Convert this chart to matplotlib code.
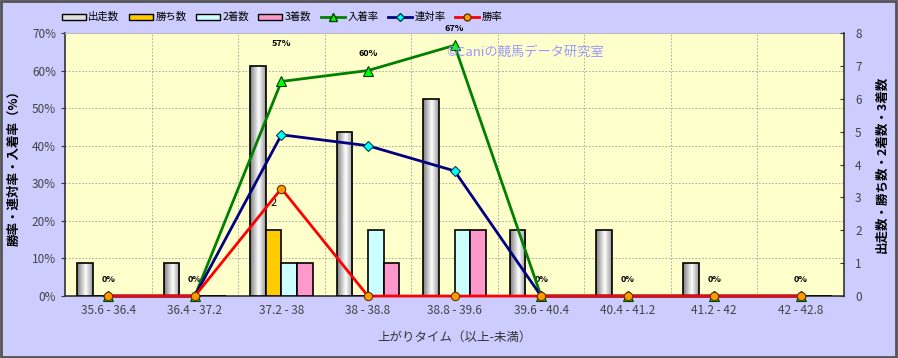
import numpy as np
import matplotlib
matplotlib.use("Agg")
import matplotlib.pyplot as plt
from matplotlib.lines import Line2D
from matplotlib.patches import Patch, Rectangle

plt.rcParams['font.family'] = ['Noto Sans CJK JP', 'DejaVu Sans']

# data
categories = ['35.6 - 36.4', '36.4 - 37.2', '37.2 - 38', '38 - 38.8', '38.8 - 39.6',
              '39.6 - 40.4', '40.4 - 41.2', '41.2 - 42', '42 - 42.8']
starts = [1, 1, 7, 5, 6, 2, 2, 1, 0]
wins = [0, 0, 2, 0, 0, 0, 0, 0, 0]
seconds = [0, 0, 1, 2, 2, 0, 0, 0, 0]
thirds = [0, 0, 1, 1, 2, 0, 0, 0, 0]
win_rate = [0, 0, 28.6, 0, 0, 0, 0, 0, 0]
rentai_rate = [0, 0, 42.9, 40.0, 33.3, 0, 0, 0, 0]
place_rate = [0, 0, 57.1, 60.0, 66.7, 0, 0, 0, 0]

BG = '#CCCCFF'
PLOT_BG = '#FFFFCC'
TICK_COLOR = '#444444'
GRID_KW = dict(color='#A0A0A0', linestyle=(0, (2, 2)), linewidth=0.6)


def shade_bar(ax, patch):
    # cylinder-like grey shading for the white bars
    h = patch.get_height()
    if h <= 0:
        return
    x0 = patch.get_x()
    w = patch.get_width()
    t = np.linspace(0, 1, 40)
    lum = np.interp(t, [0, 0.55, 1], [0.5, 1.0, 0.6])
    grad = np.dstack([lum, lum, lum]).reshape(1, -1, 3)
    im = ax.imshow(grad, extent=(x0, x0 + w, 0, h), aspect='auto',
                   origin='lower', interpolation='bilinear', zorder=2)
    im.set_clip_path(patch)


fig = plt.figure(figsize=(8.98, 3.58), dpi=100, facecolor=BG)
ax = fig.add_axes([0.0724, 0.173, 0.8675, 0.735])
ax.set_facecolor(PLOT_BG)
ax2 = ax.twinx()
ax3 = ax.twinx()

x = np.arange(len(categories))
w = 0.18

# bars on count axis
bar_sets = [
    (starts, 'none', -1.5),
    (wins, '#FFCC00', -0.5),
    (seconds, '#CCFFFF', 0.5),
    (thirds, '#FF99CC', 1.5),
]
for vals, color, off in bar_sets:
    bars = ax2.bar(x + off * w, vals, width=w, facecolor=color,
                   edgecolor='black', linewidth=1.2, zorder=3)
    if color == 'none':
        for b in bars:
            shade_bar(ax2, b)

for i, v in enumerate(wins):
    if v > 0:
        ax2.annotate(str(v), (x[i] - 0.5 * w, v), xytext=(0, 20),
                     textcoords='offset points', ha='center', va='center',
                     fontsize=8, color='black')

# rate lines on percent axis
ax3.plot(x, place_rate, color='#008000', lw=2, marker='^', ms=7,
         mfc='#00FF00', mec='#004000', mew=0.8, clip_on=False, zorder=4)
ax3.plot(x, rentai_rate, color='#000080', lw=2, marker='D', ms=5,
         mfc='#00FFFF', mec='#004040', mew=0.8, clip_on=False, zorder=5)
ax3.plot(x, win_rate, color='#FF0000', lw=2, marker='o', ms=6,
         mfc='#FF9900', mec='#663300', mew=0.8, clip_on=False, zorder=6)

for i, v in enumerate(place_rate):
    dy = 27 if i == 2 else 12
    ax3.annotate(f'{round(v)}%', (x[i], v), xytext=(0, dy),
                 textcoords='offset points', ha='center', va='center',
                 fontsize=6.5, fontweight='bold', color='black')

# axes setup
ax.set_xlim(-0.5, len(categories) - 0.5)
ax.set_ylim(0, 70)
ax2.set_ylim(0, 8)
ax3.set_ylim(0, 70)

ax.set_yticks(np.arange(0, 71, 10))
ax.set_yticklabels([f'{v}%' for v in range(0, 71, 10)])
ax.set_xticks(x)
ax.set_xticklabels(categories)
ax.set_xticks(x[:-1] + 0.5, minor=True)
ax.tick_params(axis='x', which='both', length=0, labelsize=8.5,
               labelcolor=TICK_COLOR, pad=6)
ax.tick_params(axis='y', direction='out', length=3, labelsize=8.5,
               labelcolor=TICK_COLOR, color='#333333')
ax.yaxis.grid(True, **GRID_KW)
ax.xaxis.grid(True, which='minor', **GRID_KW)
ax.set_axisbelow(True)

ax2.set_yticks(range(0, 9))
ax2.tick_params(axis='y', direction='in', length=3, labelsize=8.5,
                labelcolor=TICK_COLOR, color='#333333', pad=8)

ax3.set_yticks([])
for s in ax3.spines.values():
    s.set_visible(False)
for name in ['left', 'top', 'bottom']:
    ax2.spines[name].set_visible(False)
ax.spines['right'].set_visible(False)
ax.spines['top'].set_color('#BBBBBB')
ax.spines['left'].set_color('#333333')
ax.spines['bottom'].set_color('#333333')
ax2.spines['right'].set_color('#333333')
ax.spines['left'].set_linewidth(1.2)
ax.spines['bottom'].set_linewidth(1.2)
ax2.spines['right'].set_linewidth(1.2)

ax.set_ylabel('勝率・連対率・入着率（%）', fontsize=9, fontweight='bold', labelpad=8)
ax2.set_ylabel('出走数・勝ち数・2着数・3着数', fontsize=9, fontweight='bold',
               labelpad=10, rotation=90)
ax.set_xlabel('上がりタイム（以上-未満）', fontsize=9, color='#333333', labelpad=10)

fig.text(0.497, 0.855, '©Caniの競馬データ研究室', fontsize=9.5, color='#9999FF',
         ha='left', va='center')

handles = [
    Patch(facecolor='#E0E0E0', edgecolor='black'),
    Patch(facecolor='#FFCC00', edgecolor='black'),
    Patch(facecolor='#CCFFFF', edgecolor='black'),
    Patch(facecolor='#FF99CC', edgecolor='black'),
    Line2D([], [], color='#008000', lw=2, marker='^', ms=5.5, mfc='#00FF00', mec='#004000'),
    Line2D([], [], color='#000080', lw=2, marker='D', ms=4, mfc='#00FFFF', mec='#004040'),
    Line2D([], [], color='#FF0000', lw=2, marker='o', ms=5, mfc='#FF9900', mec='#663300'),
]
labels = ['出走数', '勝ち数', '2着数', '3着数', '入着率', '連対率', '勝率']
fig.legend(handles, labels, loc='center', bbox_to_anchor=(0.314, 0.952), ncol=7,
           frameon=False, fontsize=7.5, handlelength=2.3, handleheight=0.5,
           handletextpad=0.25, columnspacing=0.9)

fig.add_artist(Rectangle((0.001, 0.002), 0.997, 0.995, transform=fig.transFigure,
                         fill=False, edgecolor='#555555', linewidth=2))

fig.savefig('out.png', dpi=100, facecolor=BG)
